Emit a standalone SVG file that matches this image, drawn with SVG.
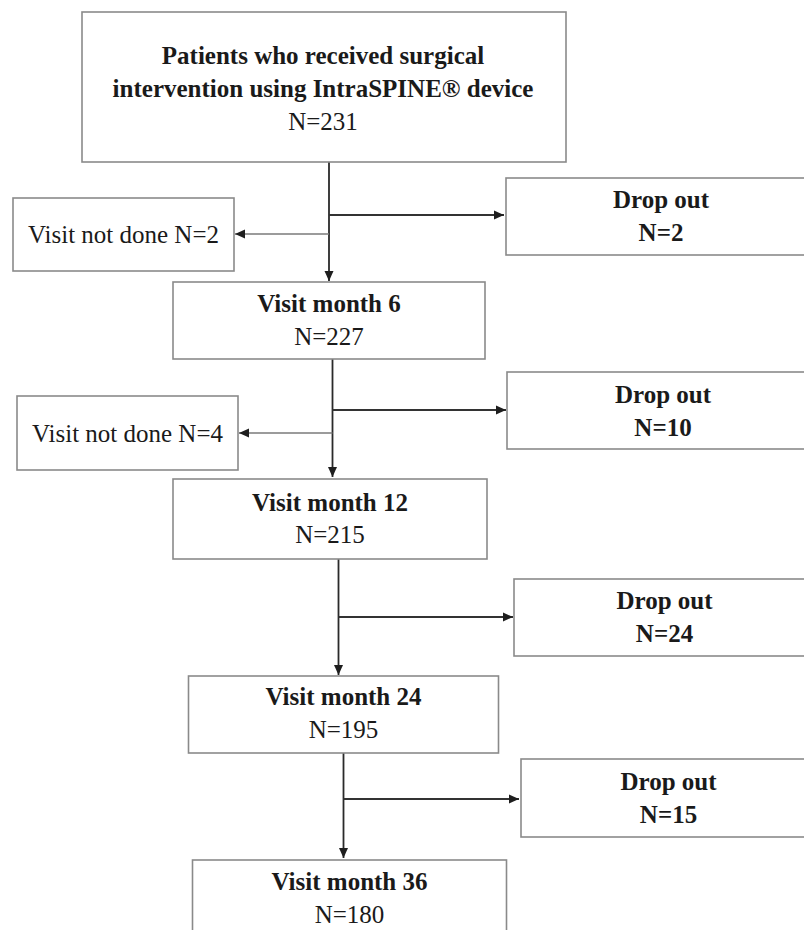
<svg xmlns="http://www.w3.org/2000/svg" width="804" height="930" viewBox="0 0 804 930">
  <style>
    .box { fill: #ffffff; stroke: #8a8a8a; stroke-width: 1.6; }
    .t { font-family: "Liberation Serif", "Times New Roman", serif; font-size: 25px; fill: #1a1a1a; text-anchor: middle; }
    .b { font-weight: bold; }
    .main { fill: none; stroke: #2a2a2a; stroke-width: 1.8; }
    .out { fill: none; stroke: #333333; stroke-width: 2.2; }
    .skip { fill: none; stroke: #7a7a7a; stroke-width: 1.4; }
  </style>
  <defs>
    <marker id="arrowDark" markerUnits="userSpaceOnUse" markerWidth="10" markerHeight="10" viewBox="0 0 10 10" refX="10" refY="5" orient="auto">
      <path d="M0,0.5 L10,5 L0,9.5 Z" fill="#1e1e1e"/>
    </marker>
  </defs>
  <rect width="804" height="930" fill="#ffffff"/>

  <!-- connectors -->
  <g id="connectors">
    <!-- enrolment to month 6 -->
    <line class="main" x1="329" y1="162" x2="329" y2="281" marker-end="url(#arrowDark)"/>
    <line class="out" x1="329" y1="215" x2="504" y2="215" marker-end="url(#arrowDark)"/>
    <line class="skip" x1="329" y1="234" x2="235" y2="234" marker-end="url(#arrowDark)"/>
    <!-- month 6 to month 12 -->
    <line class="main" x1="332.5" y1="359" x2="332.5" y2="477" marker-end="url(#arrowDark)"/>
    <line class="out" x1="332.5" y1="410" x2="506" y2="410" marker-end="url(#arrowDark)"/>
    <line class="skip" x1="332.5" y1="433" x2="239" y2="433" marker-end="url(#arrowDark)"/>
    <!-- month 12 to month 24 -->
    <line class="main" x1="338.5" y1="559" x2="338.5" y2="675" marker-end="url(#arrowDark)"/>
    <line class="out" x1="338.5" y1="617" x2="513" y2="617" marker-end="url(#arrowDark)"/>
    <!-- month 24 to month 36 -->
    <line class="main" x1="343.5" y1="753" x2="343.5" y2="858" marker-end="url(#arrowDark)"/>
    <line class="out" x1="343.5" y1="799" x2="519" y2="799" marker-end="url(#arrowDark)"/>
  </g>

  <g id="enrolled">
    <rect class="box" x="82" y="12" width="484" height="150"/>
    <text class="t b" x="323" y="64">Patients who received surgical</text>
    <text class="t b" x="323" y="97">intervention using IntraSPINE® device</text>
    <text class="t" x="323" y="130">N=231</text>
  </g>

  <g id="notdone1">
    <rect class="box" x="13" y="198" width="221" height="73"/>
    <text class="t" x="123.5" y="243">Visit not done N=2</text>
  </g>

  <g id="dropout1">
    <rect class="box" x="506" y="178" width="310" height="77"/>
    <text class="t b" x="661" y="208">Drop out</text>
    <text class="t b" x="661" y="241">N=2</text>
  </g>

  <g id="month6">
    <rect class="box" x="173" y="282" width="312" height="77"/>
    <text class="t b" x="329" y="312">Visit month 6</text>
    <text class="t" x="329" y="345">N=227</text>
  </g>

  <g id="notdone2">
    <rect class="box" x="17" y="396" width="221" height="74"/>
    <text class="t" x="127.5" y="442">Visit not done N=4</text>
  </g>

  <g id="dropout2">
    <rect class="box" x="507" y="372" width="310" height="77"/>
    <text class="t b" x="663" y="403">Drop out</text>
    <text class="t b" x="663" y="436">N=10</text>
  </g>

  <g id="month12">
    <rect class="box" x="173" y="479" width="314" height="80"/>
    <text class="t b" x="330" y="511">Visit month 12</text>
    <text class="t" x="330" y="543">N=215</text>
  </g>

  <g id="dropout3">
    <rect class="box" x="514" y="579" width="302" height="77"/>
    <text class="t b" x="664.5" y="609">Drop out</text>
    <text class="t b" x="664.5" y="642">N=24</text>
  </g>

  <g id="month24">
    <rect class="box" x="188.5" y="676" width="310" height="77"/>
    <text class="t b" x="343.5" y="705">Visit month 24</text>
    <text class="t" x="343.5" y="738">N=195</text>
  </g>

  <g id="dropout4">
    <rect class="box" x="521" y="759" width="296" height="78"/>
    <text class="t b" x="668.5" y="790">Drop out</text>
    <text class="t b" x="668.5" y="823">N=15</text>
  </g>

  <g id="month36">
    <rect class="box" x="192.5" y="860" width="314" height="90"/>
    <text class="t b" x="349.5" y="890">Visit month 36</text>
    <text class="t" x="349.5" y="923">N=180</text>
  </g>
</svg>
